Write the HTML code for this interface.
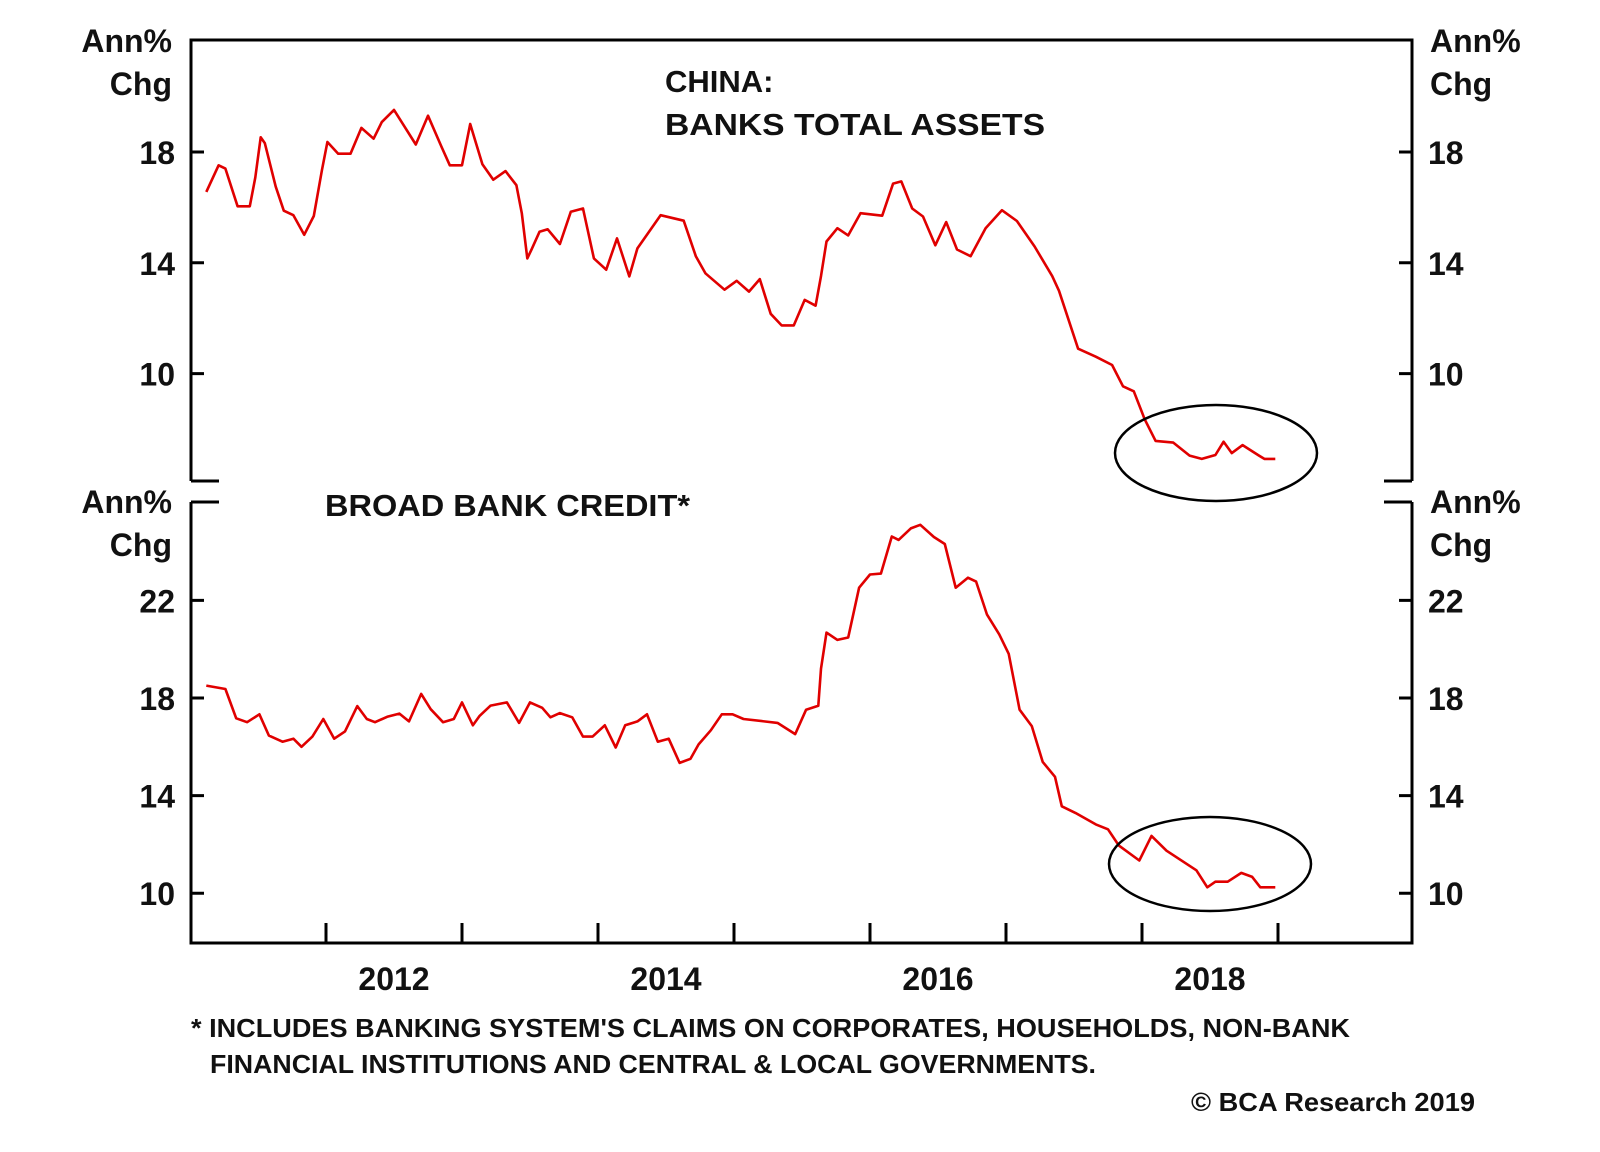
<!DOCTYPE html>
<html><head><meta charset="utf-8"><style>
html,body{margin:0;padding:0;background:#fff;}
svg{display:block;}
text{font-family:"Liberation Sans",Arial,sans-serif;font-weight:bold;fill:#111;}
</style></head><body>
<svg id="chart" width="1600" height="1152" viewBox="0 0 1600 1152" xmlns="http://www.w3.org/2000/svg"></svg>
<script>
const topYears=[2011.12,2011.21,2011.26,2011.35,2011.44,2011.48,2011.52,2011.55,2011.63,2011.69,2011.76,2011.84,2011.91,2011.97,2012.01,2012.09,2012.18,2012.26,2012.35,2012.41,2012.50,2012.66,2012.75,2012.85,2012.91,2013.00,2013.06,2013.09,2013.15,2013.23,2013.32,2013.40,2013.44,2013.48,2013.51,2013.57,2013.63,2013.72,2013.80,2013.89,2013.97,2014.06,2014.14,2014.23,2014.29,2014.46,2014.63,2014.72,2014.79,2014.93,2015.02,2015.11,2015.19,2015.27,2015.35,2015.44,2015.52,2015.60,2015.64,2015.68,2015.76,2015.84,2015.93,2016.09,2016.17,2016.23,2016.31,2016.39,2016.48,2016.56,2016.64,2016.74,2016.85,2016.97,2017.08,2017.21,2017.34,2017.39,2017.53,2017.66,2017.78,2017.86,2017.94,2018.02,2018.10,2018.23,2018.35,2018.44,2018.54,2018.60,2018.66,2018.74,2018.86,2018.90,2018.98];
const topValues=[16.56,17.52,17.40,16.04,16.04,17.08,18.53,18.32,16.75,15.88,15.72,15.01,15.69,17.34,18.36,17.94,17.94,18.87,18.48,19.08,19.52,18.27,19.31,18.18,17.52,17.52,19.01,18.53,17.56,17.00,17.31,16.80,15.79,14.16,14.47,15.12,15.21,14.68,15.84,15.96,14.16,13.75,14.88,13.51,14.52,15.72,15.52,14.23,13.62,13.03,13.35,12.96,13.41,12.16,11.74,11.74,12.66,12.45,13.52,14.77,15.25,14.99,15.79,15.70,16.86,16.94,15.96,15.67,14.63,15.47,14.48,14.24,15.25,15.90,15.51,14.59,13.52,12.99,10.90,10.61,10.31,9.54,9.36,8.35,7.57,7.51,7.04,6.92,7.06,7.54,7.13,7.42,7.04,6.92,6.92];
const botYears=[2011.12,2011.26,2011.34,2011.42,2011.51,2011.58,2011.68,2011.76,2011.82,2011.90,2011.98,2012.06,2012.14,2012.23,2012.30,2012.36,2012.45,2012.54,2012.61,2012.70,2012.77,2012.86,2012.94,2013.00,2013.08,2013.13,2013.21,2013.33,2013.42,2013.50,2013.59,2013.65,2013.72,2013.81,2013.89,2013.96,2014.05,2014.13,2014.20,2014.29,2014.36,2014.44,2014.52,2014.60,2014.68,2014.74,2014.83,2014.91,2014.99,2015.07,2015.32,2015.45,2015.53,2015.62,2015.64,2015.68,2015.76,2015.84,2015.92,2016.00,2016.08,2016.16,2016.21,2016.30,2016.37,2016.47,2016.55,2016.63,2016.72,2016.78,2016.86,2016.95,2017.02,2017.10,2017.19,2017.27,2017.36,2017.41,2017.51,2017.66,2017.75,2017.83,2017.98,2018.07,2018.18,2018.40,2018.48,2018.54,2018.63,2018.73,2018.81,2018.87,2018.98];
const botValues=[18.51,18.37,17.17,17.01,17.33,16.46,16.21,16.33,16.00,16.42,17.14,16.33,16.63,17.67,17.14,17.01,17.23,17.36,17.04,18.17,17.54,17.01,17.14,17.82,16.88,17.27,17.69,17.82,16.98,17.82,17.60,17.21,17.38,17.21,16.42,16.42,16.88,15.97,16.88,17.04,17.33,16.21,16.33,15.34,15.51,16.10,16.68,17.33,17.33,17.14,16.98,16.52,17.52,17.68,19.20,20.68,20.38,20.48,22.52,23.06,23.10,24.62,24.48,24.95,25.10,24.60,24.31,22.52,22.93,22.77,21.42,20.61,19.81,17.52,16.85,15.38,14.77,13.56,13.29,12.82,12.62,11.95,11.34,12.35,11.74,10.94,10.24,10.47,10.47,10.83,10.67,10.24,10.24];
const topTicks=[10,14,18];
const botTicks=[10,14,18,22];
const yearTicks=[2012,2013,2014,2015,2016,2017,2018,2019];
const yearLabels=[2012,2014,2016,2018];

const NS='http://www.w3.org/2000/svg';
const svg=document.getElementById('chart');
const L=191,R=1412,T=40,B=943,TB=481,BT=502;
function xs(yr){return 326+(yr-2012)*136;}
function yTop(v){return 152+(18-v)*27.7;}
function yBot(v){return 698+(18-v)*24.4;}
function mk(tag,attrs,name,txt){const e=document.createElementNS(NS,tag);for(const k in attrs)e.setAttribute(k,attrs[k]);


if(txt!==undefined)e.textContent=txt;svg.appendChild(e);return e;}
const ax={stroke:'#000','stroke-width':3,fill:'none'};
mk('path',Object.assign({d:`M${L},${TB}V${T}H${R}V${TB} M${L},${TB}H${L+28} M${R},${TB}H${R-28}`},ax),'top-panel-frame');
mk('path',Object.assign({d:`M${L},${BT}V${B}H${R}V${BT} M${L},${BT}H${L+28} M${R},${BT}H${R-28}`},ax),'bottom-panel-frame');
topTicks.forEach(v=>{const y=yTop(v);
mk('path',Object.assign({d:`M${L},${y}H${L+13} M${R},${y}H${R-13}`},ax),'top-y-tick');
mk('text',{x:175,y:y+12,'font-size':32,'text-anchor':'end'},'top-y-label-left',v);
mk('text',{x:1428,y:y+12,'font-size':32},'top-y-label-right',v);});
botTicks.forEach(v=>{const y=yBot(v);
mk('path',Object.assign({d:`M${L},${y}H${L+13} M${R},${y}H${R-13}`},ax),'bottom-y-tick');
mk('text',{x:175,y:y+12,'font-size':32,'text-anchor':'end'},'bottom-y-label-left',v);
mk('text',{x:1428,y:y+12,'font-size':32},'bottom-y-label-right',v);});
yearTicks.forEach(yr=>{const x=xs(yr);mk('path',Object.assign({d:`M${x},${B}V${B-20}`},ax),'x-tick');});
yearLabels.forEach(yr=>{mk('text',{x:xs(yr+0.5),y:990,'font-size':32,'text-anchor':'middle'},'x-label',yr);});
[[52,95],[513,556]].forEach((p,i)=>{
mk('text',{x:172,y:p[0],'font-size':32,'text-anchor':'end'},'y-unit-left','Ann%');
mk('text',{x:172,y:p[1],'font-size':32,'text-anchor':'end'},'y-unit-left','Chg');
mk('text',{x:1430,y:p[0],'font-size':32},'y-unit-right','Ann%');
mk('text',{x:1430,y:p[1],'font-size':32},'y-unit-right','Chg');});
mk('text',{x:665,y:92,'font-size':31},'top-title-line1','CHINA:');
mk('text',{x:665,y:135,'font-size':31,textLength:380,lengthAdjust:'spacingAndGlyphs'},'top-title-line2','BANKS TOTAL ASSETS');
mk('text',{x:325,y:516,'font-size':31,textLength:365,lengthAdjust:'spacingAndGlyphs'},'bottom-title','BROAD BANK CREDIT*');
let d='';topYears.forEach((yr,i)=>{d+=(i?'L':'M')+xs(yr).toFixed(1)+','+yTop(topValues[i]).toFixed(1);});
mk('path',{d:d,stroke:'#e00000','stroke-width':2.6,fill:'none','stroke-linejoin':'round'},'banks-total-assets-line');
d='';botYears.forEach((yr,i)=>{d+=(i?'L':'M')+xs(yr).toFixed(1)+','+yBot(botValues[i]).toFixed(1);});
mk('path',{d:d,stroke:'#e00000','stroke-width':2.6,fill:'none','stroke-linejoin':'round'},'broad-bank-credit-line');
mk('ellipse',{cx:1216,cy:453,rx:101,ry:48,stroke:'#000','stroke-width':2.5,fill:'none'},'top-highlight-circle');
mk('ellipse',{cx:1210,cy:864,rx:101,ry:47,stroke:'#000','stroke-width':2.5,fill:'none'},'bottom-highlight-circle');
mk('text',{x:191,y:1037,'font-size':26,textLength:1159,lengthAdjust:'spacingAndGlyphs'},'footnote-line1','* INCLUDES BANKING SYSTEM\'S CLAIMS ON CORPORATES, HOUSEHOLDS, NON-BANK');
mk('text',{x:210,y:1073,'font-size':26,textLength:886,lengthAdjust:'spacingAndGlyphs'},'footnote-line2','FINANCIAL INSTITUTIONS AND CENTRAL & LOCAL GOVERNMENTS.');
mk('text',{x:1191,y:1111,'font-size':26,textLength:284,lengthAdjust:'spacingAndGlyphs'},'copyright','© BCA Research 2019');
</script>
</body></html>
